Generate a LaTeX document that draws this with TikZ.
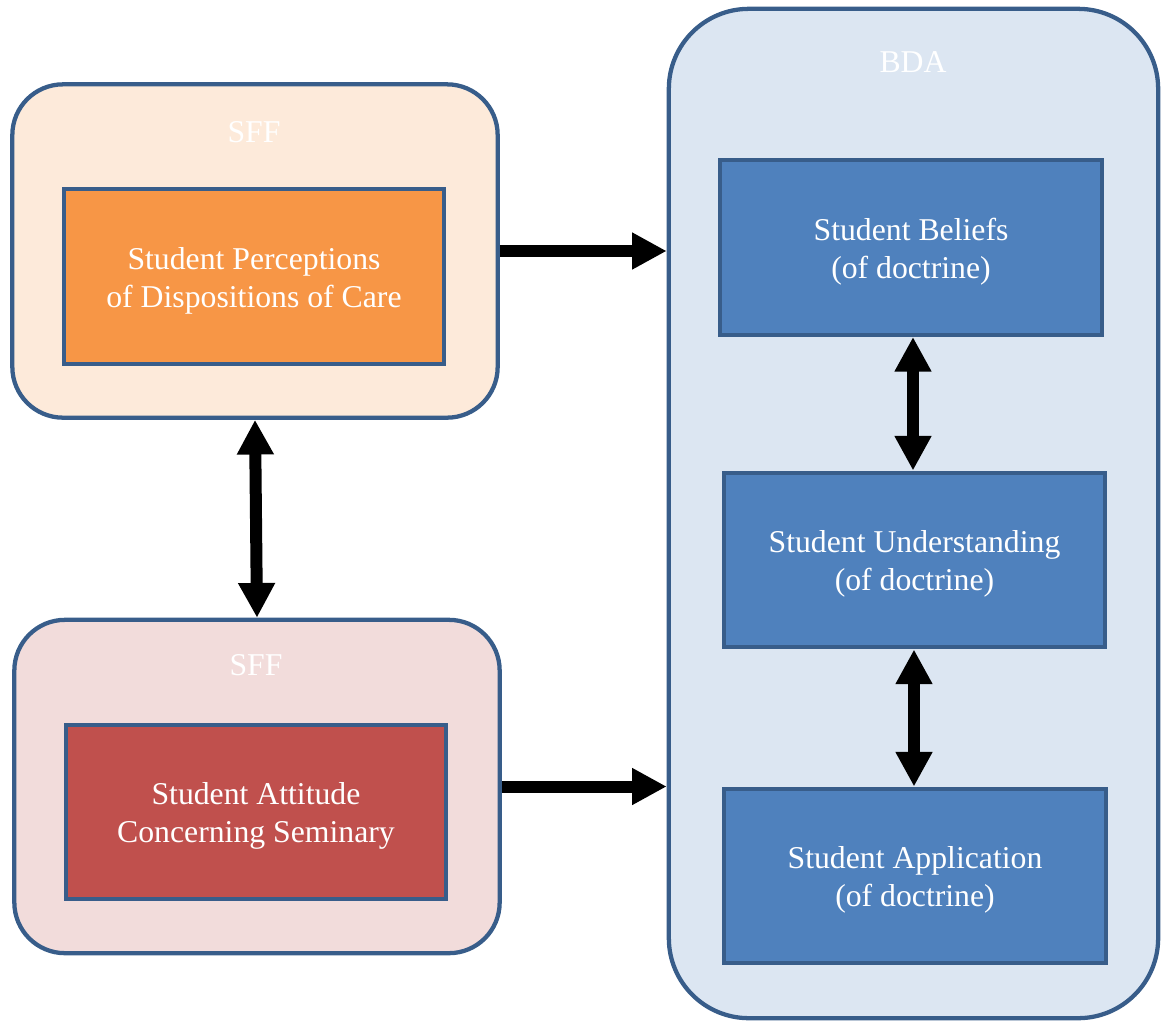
\documentclass[tikz,border=0pt]{standalone}
\usepackage{fontspec}
\setmainfont{Liberation Serif}
\usetikzlibrary{arrows.meta}
\definecolor{bordc}{HTML}{385D8A}
\definecolor{sffonefill}{HTML}{FDEADA}
\definecolor{sfftwofill}{HTML}{F2DCDB}
\definecolor{bdafill}{HTML}{DCE6F2}
\definecolor{orangebox}{HTML}{F79646}
\definecolor{redbox}{HTML}{C0504D}
\definecolor{bluebox}{HTML}{4F81BD}
\newcommand\mytopstrut{\rule{0pt}{22.5pt}}
\tikzset{
  txt/.style={font=\fontsize{23.8}{28.5}\selectfont, text=white, align=center},
  outerbox/.style={draw=bordc, line width=3.2pt, rounded corners=38pt},
  innerbox/.style={draw=bordc, line width=3.2pt, txt},
  bigarrow/.style={line width=9pt, -{Triangle[length=26pt,width=26pt]}},
  dblarrow/.style={line width=9pt, {Triangle[length=26pt,width=26pt]}-{Triangle[length=26pt,width=26pt]}},
}
\begin{document}
\begin{tikzpicture}[x=0.75pt,y=-0.75pt]
\useasboundingbox (0,0) rectangle (1168,1026);
% outer containers
\node[outerbox, fill=sffonefill, minimum width=364pt, minimum height=250pt] (sffa) at (255,251) {};
\node[outerbox, fill=sfftwofill, minimum width=364pt, minimum height=250pt] (sffb) at (257,786.5) {};
\node[outerbox, fill=bdafill, rounded corners=60pt, minimum width=367pt, minimum height=757pt] (bda) at (913.5,513.5) {};
% container labels
\node[txt] (sffalab) at (254,132) {SFF};
\node[txt] (sffblab) at (256,665) {SFF};
\node[txt] (bdalab) at (913,62) {BDA};
% inner boxes
\node[innerbox, fill=orangebox, minimum width=285pt, minimum height=131pt] (perc) at (254,276.5) {\mytopstrut Student Perceptions\\of Dispositions of Care};
\node[innerbox, fill=redbox, minimum width=285pt, minimum height=131pt] (att) at (256,812) {\mytopstrut Student Attitude\\Concerning Seminary};
\node[innerbox, fill=bluebox, minimum width=286pt, minimum height=131pt] (bel) at (911,247.5) {\mytopstrut Student Beliefs\\(of doctrine)};
\node[innerbox, fill=bluebox, minimum width=286pt, minimum height=131pt] (und) at (914.5,560) {\mytopstrut Student Understanding\\(of doctrine)};
\node[innerbox, fill=bluebox, minimum width=286pt, minimum height=131pt] (app) at (915,876) {\mytopstrut Student Application\\(of doctrine)};
% connectors
\draw[bigarrow] (sffa.east) -- (sffa.east -| bda.west);
\draw[bigarrow] (sffb.east) -- (sffb.east -| bda.west);
\draw[dblarrow] (sffa.south) -- (sffb.north);
\draw[dblarrow] (bel.south -| 913,0) -- (und.north -| 913,0);
\draw[dblarrow] (und.south -| 914,0) -- (app.north -| 914,0);
\end{tikzpicture}
\end{document}
